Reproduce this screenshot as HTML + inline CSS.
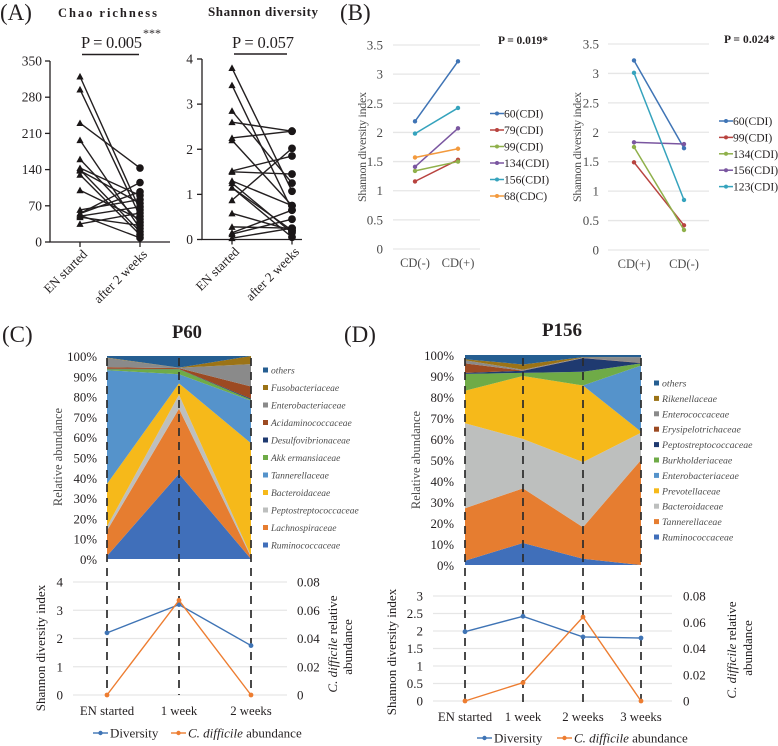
<!DOCTYPE html>
<html lang="en">
<head>
<meta charset="utf-8">
<title>Microbiome diversity figure</title>
<style>
html,body{margin:0;padding:0;background:#fff;}
svg{display:block;font-family:"Liberation Serif",serif;}
text{fill:#231f20;}
.gray{fill:#4d4d4d;}
</style>
</head>
<body>
<svg id="figure" xmlns="http://www.w3.org/2000/svg" width="778" height="746" viewBox="0 0 778 746">
  <g id="static-text">
    <text x="0" y="20" font-size="23">(A)</text>
    <text x="340" y="20" font-size="23">(B)</text>
    <text x="2" y="342" font-size="23">(C)</text>
    <text x="344" y="342" font-size="23">(D)</text>

    <text x="58" y="17" font-size="12.5" font-weight="bold" textLength="99">Chao richness</text>
    <text x="208" y="16" font-size="13" font-weight="bold" textLength="110">Shannon diversity</text>
    <text x="81" y="48" font-size="16.5" textLength="61">P = 0.005</text>
    <text x="143" y="37" font-size="12">***</text>
    <line x1="82" x2="139" y1="54.5" y2="54.5" stroke="#231f20" stroke-width="1.4"/>
    <text x="232" y="48" font-size="16.5" textLength="62">P = 0.057</text>
    <line x1="234" x2="287" y1="54" y2="54" stroke="#231f20" stroke-width="1.4"/>

    <text x="498" y="44" font-size="11.5" font-weight="bold" textLength="50">P = 0.019*</text>
    <text x="724" y="43" font-size="11.5" font-weight="bold" textLength="51">P = 0.024*</text>
    <text transform="translate(366,147) rotate(-90)" text-anchor="middle" font-size="12" textLength="110" class="gray">Shannon diversity index</text>
    <text transform="translate(581,147) rotate(-90)" text-anchor="middle" font-size="12" textLength="110" class="gray">Shannon diversity index</text>

    <text x="187" y="338" text-anchor="middle" font-size="18.6" font-weight="bold">P60</text>
    <text x="562" y="336" text-anchor="middle" font-size="19" font-weight="bold">P156</text>
    <text transform="translate(62,457) rotate(-90)" text-anchor="middle" font-size="12.5" class="gray">Relative abundance</text>
    <text transform="translate(420,460) rotate(-90)" text-anchor="middle" font-size="12.5" class="gray">Relative abundance</text>

    <text transform="translate(45,648) rotate(-90)" text-anchor="middle" font-size="13">Shannon diversity index</text>
    <text transform="translate(337,644) rotate(-90)" text-anchor="middle" font-size="13"><tspan font-style="italic">C. difficile</tspan> relative</text>
    <text transform="translate(352,647) rotate(-90)" text-anchor="middle" font-size="13">abundance</text>
    <text transform="translate(396,652) rotate(-90)" text-anchor="middle" font-size="13">Shannon diversity index</text>
    <text transform="translate(736,650) rotate(-90)" text-anchor="middle" font-size="13"><tspan font-style="italic">C. difficile</tspan> relative</text>
    <text transform="translate(752,648) rotate(-90)" text-anchor="middle" font-size="13">abundance</text>
  </g>
</svg>
<script>
// ---------- Panel A data ----------
const pairCategories = ['EN started', 'after 2 weeks'];
const chaoTicks = [0, 70, 140, 210, 280, 350];
const chaoStart = [320, 295, 230, 197, 160, 143, 140, 138, 130, 100, 62, 55, 55, 50, 48, 52, 35];
const chaoEnd = [62, 50, 143, 26, 38, 90, 20, 75, 14, 44, 82, 97, 115, 68, 32, 8, 56];
const shannonTicks = [0, 1, 2, 3, 4];
const shannonStart = [3.8, 3.42, 2.85, 2.6, 2.25, 2.2, 1.52, 1.5, 1.3, 1.25, 1.15, 1.15, 0.87, 0.58, 0.28, 0.15, 0.12, 0.03];
const shannonEnd = [1.07, 0.65, 1.25, 2.4, 2.4, 0.75, 1.85, 1.45, 0.75, 0.15, 0.05, 0.2, 2.02, 0.2, 0.25, 0.65, 0.45, 0.25];

// ---------- Panel B data ----------
const bTicks = [0, 0.5, 1, 1.5, 2, 2.5, 3, 3.5];
const b1Categories = ['CD(-)', 'CD(+)'];
const b1Names = ['60(CDI)', '79(CDI)', '99(CDI)', '134(CDI)', '156(CDI)', '68(CDC)'];
const b1Values60 = [2.19, 3.22];
const b1Values79 = [1.16, 1.53];
const b1Values99 = [1.34, 1.5];
const b1Values134 = [1.41, 2.07];
const b1Values156 = [1.98, 2.42];
const b1Values68 = [1.57, 1.72];
const b2Categories = ['CD(+)', 'CD(-)'];
const b2Names = ['60(CDI)', '99(CDI)', '134(CDI)', '156(CDI)', '123(CDI)'];
const b2Values60 = [3.22, 1.73];
const b2Values99 = [1.49, 0.42];
const b2Values134 = [1.75, 0.34];
const b2Values156 = [1.83, 1.8];
const b2Values123 = [3.01, 0.85];

// ---------- Panel C data ----------
const percentTicks = ['0%', '10%', '20%', '30%', '40%', '50%', '60%', '70%', '80%', '90%', '100%'];
const cFamilies = ['Ruminococcaceae', 'Lachnospiraceae', 'Peptostreptococcaceae', 'Bacteroidaceae', 'Tannerellaceae', 'Akk ermansiaceae', 'Desulfovibrionaceae', 'Acidaminococcaceae', 'Enterobacteriaceae', 'Fusobacteriaceae', 'others'];
const cRuminococcaceae = [1.5, 42, 0];
const cLachnospiraceae = [12.5, 32, 1];
const cPeptostreptococcaceae = [2, 7, 0.5];
const cBacteroidaceae = [21, 5.5, 55.5];
const cTannerellaceae = [56, 4.5, 21];
const cAkkermansiaceae = [0.5, 2.5, 0.5];
const cDesulfovibrionaceae = [0.2, 0.1, 0.5];
const cAcidaminococcaceae = [0.8, 0.4, 6];
const cEnterobacteriaceae = [4.5, 0.2, 11];
const cFusobacteriaceae = [0.2, 0.1, 4];
const cOthers = [0.8, 5.7, 0];
const cLineCategories = ['EN started', '1 week', '2 weeks'];
const cDiversity = [2.2, 3.2, 1.75];
const cDifficile = [0, 0.067, 0];
const cLeftTicks = [0, 1, 2, 3, 4];
const abundanceTicks = [0, 0.02, 0.04, 0.06, 0.08];

// ---------- Panel D data ----------
const dFamilies = ['Ruminococcaceae', 'Tannerellaceae', 'Bacteroidaceae', 'Prevotellaceae', 'Enterobacteriaceae', 'Burkholderiaceae', 'Peptostreptococcaceae', 'Erysipelotrichaceae', 'Enterococcaceae', 'Rikenellaceae', 'others'];
const dRuminococcaceae = [2, 10.5, 3, 0];
const dTannerellaceae = [25, 26, 15, 50];
const dBacteroidaceae = [40.5, 23.5, 31, 13];
const dPrevotellaceae = [15.5, 30, 36.5, 0.5];
const dEnterobacteriaceae = [0, 0, 0, 31.5];
const dBurkholderiaceae = [8, 1.5, 6.5, 1];
const dPeptostreptococcaceae = [0.5, 1, 6.5, 0.2];
const dErysipelotrichaceae = [4.5, 0.1, 0.1, 0.1];
const dEnterococcaceae = [1.5, 0.4, 0.2, 2.7];
const dRikenellaceae = [0.5, 2.5, 0.2, 0];
const dOthers = [2, 4.5, 1, 1];
const dLineCategories = ['EN started', '1 week', '2 weeks', '3 weeks'];
const dDiversity = [1.98, 2.42, 1.83, 1.8];
const dDifficile = [0, 0.014, 0.064, 0];
const dLeftTicks = [0, 0.5, 1, 1.5, 2, 2.5, 3];

// ---------- Palettes ----------
const bColors = ['#3f74b5', '#b8433f', '#8fb04a', '#7a56a0', '#35a3bd', '#f39a3d'];
const b2Colors = ['#3f74b5', '#b8433f', '#8fb04a', '#7a56a0', '#35a3bd'];
const cColors = ['#406fba', '#e67d30', '#bdbfbe', '#f6b91a', '#5593cb', '#6fab47', '#1f3a70', '#9c4a22', '#8a8a8a', '#9b7316', '#255e91'];
const dColors = ['#406fba', '#e67d30', '#bdbfbe', '#f6b91a', '#5593cb', '#6fab47', '#1f3a70', '#9c4a22', '#8a8a8a', '#9b7316', '#255e91'];

const NS = 'http://www.w3.org/2000/svg';
const root = document.getElementById('figure');

function make(tag, attrs, parent) {
  const node = document.createElementNS(NS, tag);
  for (const key in attrs) node.setAttribute(key, attrs[key]);
  (parent || root).appendChild(node);
  return node;
}
function linear(d0, d1, r0, r1) {
  return function (v) { return r0 + (v - d0) / (d1 - d0) * (r1 - r0); };
}
function label(str, x, y, size, anchor, cls, parent) {
  const t = make('text', { x: x, y: y, 'font-size': size, 'text-anchor': anchor }, parent);
  if (cls) t.setAttribute('class', cls);
  t.textContent = str;
  return t;
}

// ---------- Paired plots (A) ----------
function pairedPlot(name, startVals, endVals, ticks, maxV, yAxisX, yTop, yBottom, xEnd, xLeft, xRight, tickEndX, circleR) {
  const g = make('g', {});
  
  
  const y = linear(0, maxV, yBottom, yTop);
  const axis = make('path', { d: 'M' + yAxisX + ' ' + yTop + 'V' + yBottom + 'H' + xEnd, fill: 'none', stroke: '#231f20', 'stroke-width': 1.3 }, g);
  
  
  ticks.forEach(function (tv) {
    const tick = make('line', { x1: yAxisX - 5, x2: yAxisX, y1: y(tv), y2: y(tv), stroke: '#231f20', 'stroke-width': 1.3 }, g);
    
    
    const tl = label(String(tv), tickEndX, y(tv) + 4.5, 13.5, 'end', null, g);
    
    
  });
  [xLeft, xRight].forEach(function (cx, i) {
    const tick = make('line', { x1: cx, x2: cx, y1: yBottom, y2: yBottom + 5, stroke: '#231f20', 'stroke-width': 1.3 }, g);
    
    
    const tl = make('text', { transform: 'translate(' + (cx + 8) + ',' + (yBottom + 13) + ') rotate(-45)', 'text-anchor': 'end', 'font-size': 13 }, g);
    tl.textContent = pairCategories[i];
    
    
  });
  startVals.forEach(function (sv, i) {
    const seg = make('line', { x1: xLeft, y1: y(sv), x2: xRight, y2: y(endVals[i]), stroke: '#231f20', 'stroke-width': 1.4 }, g);
    
    
  });
  startVals.forEach(function (sv, i) {
    const py = y(sv);
    const tri = make('polygon', { points: (xLeft - 3.6) + ',' + (py + 3) + ' ' + (xLeft + 3.6) + ',' + (py + 3) + ' ' + xLeft + ',' + (py - 3.6), fill: '#1a1617' }, g);
    
    
    const dot = make('circle', { cx: xRight, cy: y(endVals[i]), r: circleR, fill: '#1a1617' }, g);
    
    
  });
}
pairedPlot('chao-richness-chart', chaoStart, chaoEnd, chaoTicks, 350, 50, 61, 242, 170, 80, 140, 42, 3.8);
pairedPlot('shannon-diversity-chart', shannonStart, shannonEnd, shannonTicks, 4, 202, 59, 239.5, 302, 232, 292, 193, 3.9);

// ---------- Line plots (B) ----------
function slopePlot(name, categories, names, series, colors, gridL, gridR, yTop, yBottom, cx0, cx1, tickEndX, legLineX, legYStart, legStep) {
  const g = make('g', {});
  
  
  const y = linear(0, 3.5, yBottom, yTop);
  const x = [cx0, cx1];
  bTicks.forEach(function (tv) {
    const grid = make('line', { x1: gridL, x2: gridR, y1: y(tv), y2: y(tv), stroke: '#e6e6e6', 'stroke-width': 1.3 }, g);
    
    
    const tl = label(String(tv), tickEndX, y(tv) + 4.5, 13, 'end', 'gray', g);
    
    
  });
  categories.forEach(function (c, i) {
    const tl = label(c, x[i], yBottom + 18, 12.5, 'middle', 'gray', g);
    
    
  });
  series.forEach(function (vals, s) {
    const line = make('line', { x1: x[0], y1: y(vals[0]), x2: x[1], y2: y(vals[1]), stroke: colors[s], 'stroke-width': 1.5 }, g);
    
    
    vals.forEach(function (v, i) {
      const pt = make('circle', { cx: x[i], cy: y(v), r: 2.2, fill: colors[s] }, g);
      
      
    });
    const ly = legYStart + s * legStep;
    const ll = make('line', { x1: legLineX, x2: legLineX + 14, y1: ly, y2: ly, stroke: colors[s], 'stroke-width': 1.5 }, g);
    
    
    const lp = make('circle', { cx: legLineX + 7, cy: ly, r: 2, fill: colors[s] }, g);
    
    
    const lt = label(names[s], legLineX + 14, ly + 4, 11.6, 'start', null, g);
    
    
  });
}
slopePlot('b1-chart', b1Categories, b1Names, [b1Values60, b1Values79, b1Values99, b1Values134, b1Values156, b1Values68], bColors, 393, 480, 45, 249, 415, 458, 383, 490, 113.5, 16.5);
slopePlot('b2-chart', b2Categories, b2Names, [b2Values60, b2Values99, b2Values134, b2Values156, b2Values123], b2Colors, 608, 709, 44, 250, 634, 684, 599, 719, 121, 16.4);

// ---------- Stacked area (C, D) ----------
function stackedArea(name, families, series, colors, xs, yTop, yBottom, tickEndX, legSquareX, legYTop, legStep, legFont) {
  const g = make('g', {});
  
  
  const y = linear(0, 100, yBottom, yTop);
  let lower = xs.map(function () { return 0; });
  series.forEach(function (vals, s) {
    const upper = vals.map(function (v, i) { return lower[i] + v; });
    const top = xs.map(function (x, i) { return x + ',' + y(upper[i]); });
    const bot = xs.map(function (x, i) { return x + ',' + y(lower[i]); }).reverse();
    const area = make('polygon', { points: top.concat(bot).join(' '), fill: colors[s] }, g);
    
    
    lower = upper;
    const idx = families.length - 1 - s;
    const ly = legYTop + idx * legStep;
    const sq = make('rect', { x: legSquareX, y: ly - 2.5, width: 5, height: 5, fill: colors[s] }, g);
    
    
    const lt = label(families[s], legSquareX + 8, ly + 3.5, legFont, 'start', 'gray', g);
    lt.setAttribute('font-style', 'italic');
    
    
  });
  percentTicks.forEach(function (t, i) {
    const tl = label(t, tickEndX, y(i * 10) + 5, 12.8, 'end', null, g);
    
    
  });
}
stackedArea('c-area-chart', cFamilies,
  [cRuminococcaceae, cLachnospiraceae, cPeptostreptococcaceae, cBacteroidaceae, cTannerellaceae, cAkkermansiaceae, cDesulfovibrionaceae, cAcidaminococcaceae, cEnterobacteriaceae, cFusobacteriaceae, cOthers],
  cColors, [107, 179, 251], 356, 559, 97, 263, 370, 17.5, 9.5);
stackedArea('d-area-chart', dFamilies,
  [dRuminococcaceae, dTannerellaceae, dBacteroidaceae, dPrevotellaceae, dEnterobacteriaceae, dBurkholderiaceae, dPeptostreptococcaceae, dErysipelotrichaceae, dEnterococcaceae, dRikenellaceae, dOthers],
  dColors, [465, 523, 583, 641], 355, 565, 454, 654, 383, 15.4, 9.8);

// ---------- Diversity / C. difficile lines (C, D) ----------
function dualPlot(name, categories, diversity, difficile, leftTicks, leftMax, xs, gridL, gridR, yTop, yBottom, leftEnd, rightStart, catY, dashTop, dashBottom, legY, legX0, legX1) {
  const g = make('g', {});
  
  
  const yL = linear(0, leftMax, yBottom, yTop);
  const yR = linear(0, 0.08, yBottom, yTop);
  leftTicks.forEach(function (tv) {
    const grid = make('line', { x1: gridL, x2: gridR, y1: yL(tv), y2: yL(tv), stroke: '#e6e6e6', 'stroke-width': 1.3 }, g);
    
    
    const tl = label(String(tv), leftEnd, yL(tv) + 4.5, 13, 'end', null, g);
    
    
  });
  abundanceTicks.forEach(function (tv) {
    const tl = label(String(tv), rightStart, yR(tv) + 4.5, 13, 'start', null, g);
    
    
  });
  xs.forEach(function (x, i) {
    const dash = make('line', { x1: x, x2: x, y1: dashTop, y2: dashBottom, stroke: '#2b2b2b', 'stroke-width': 1.7, 'stroke-dasharray': '8 6' }, g);
    
    
    const tl = label(categories[i], x, catY, 12.8, 'middle', null, g);
    
    
  });
  const divPts = diversity.map(function (v, i) { return xs[i] + ',' + yL(v); }).join(' ');
  const divLine = make('polyline', { points: divPts, fill: 'none', stroke: '#3f74b5', 'stroke-width': 1.4 }, g);
  
  
  diversity.forEach(function (v, i) {
    const pt = make('circle', { cx: xs[i], cy: yL(v), r: 2.4, fill: '#3f74b5' }, g);
    
    
  });
  const cdPts = difficile.map(function (v, i) { return xs[i] + ',' + yR(v); }).join(' ');
  const cdLine = make('polyline', { points: cdPts, fill: 'none', stroke: '#ed7d31', 'stroke-width': 1.4 }, g);
  
  
  difficile.forEach(function (v, i) {
    const pt = make('circle', { cx: xs[i], cy: yR(v), r: 2.4, fill: '#ed7d31' }, g);
    
    
  });
  const l1 = make('line', { x1: legX0, x2: legX0 + 15, y1: legY, y2: legY, stroke: '#3f74b5', 'stroke-width': 1.4 }, g);
  
  
  const m1 = make('circle', { cx: legX0 + 7.5, cy: legY, r: 2.2, fill: '#3f74b5' }, g);
  
  
  const t1 = label('Diversity', legX0 + 17, legY + 4.5, 13, 'start', null, g);
  
  
  const l2 = make('line', { x1: legX1, x2: legX1 + 15, y1: legY, y2: legY, stroke: '#ed7d31', 'stroke-width': 1.4 }, g);
  
  
  const m2 = make('circle', { cx: legX1 + 7.5, cy: legY, r: 2.2, fill: '#ed7d31' }, g);
  
  
  const t2 = make('text', { x: legX1 + 17, y: legY + 4.5, 'font-size': 13 }, g);
  
  
  const ital = make('tspan', { 'font-style': 'italic' }, t2);
  ital.textContent = 'C. difficile';
  const rest = make('tspan', {}, t2);
  rest.textContent = ' abundance';
}
dualPlot('c-line-chart', cLineCategories, cDiversity, cDifficile, cLeftTicks, 4, [107, 179, 251], 73, 287, 582, 695, 63, 297, 715, 358, 695, 733, 93, 171);
dualPlot('d-line-chart', dLineCategories, dDiversity, dDifficile, dLeftTicks, 3, [465, 523, 583, 641], 433, 672, 596, 701, 423, 683, 721, 358, 702, 738, 477, 557);
</script>
</body>
</html>
